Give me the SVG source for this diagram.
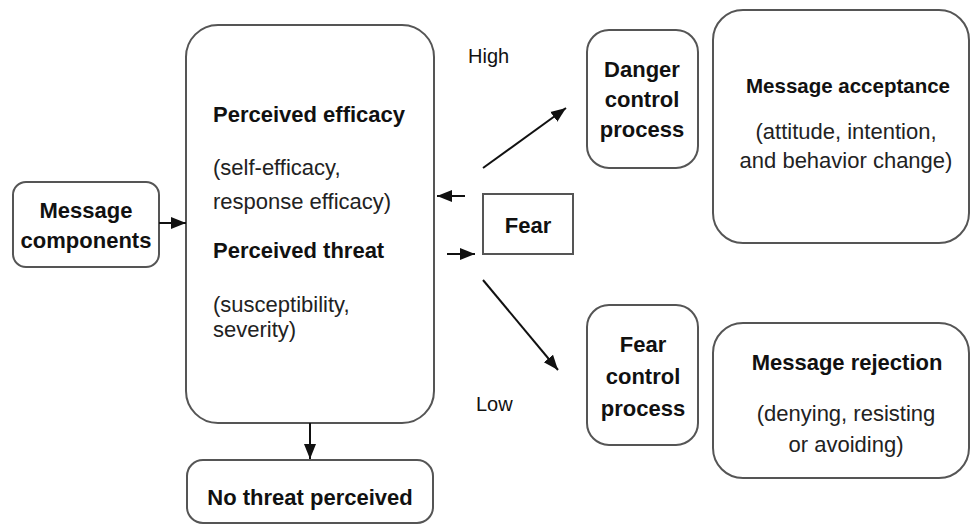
<svg xmlns="http://www.w3.org/2000/svg" width="971" height="527" viewBox="0 0 971 527">
<style>
.box{fill:#fff;stroke:#555;stroke-width:2}
.b{font-family:"Liberation Sans",Arial,sans-serif;font-weight:bold;font-size:22px;fill:#111}
.r{font-family:"Liberation Sans",Arial,sans-serif;font-size:22px;fill:#222}
.lbl{font-family:"Liberation Sans",Arial,sans-serif;font-size:20px;fill:#111}
.c{text-anchor:middle}
.con{stroke:#111;stroke-width:2;fill:none}
</style>
<defs>
<marker id="ah" markerUnits="userSpaceOnUse" markerWidth="16" markerHeight="16" viewBox="0 0 16 16" refX="15" refY="8" orient="auto">
<path d="M0,2 L15,8 L0,14 Z" fill="#111"/>
</marker>
</defs>
<rect width="971" height="527" fill="#fff"/>

<g id="message-components">
<rect class="box" x="13" y="182" width="146" height="85" rx="13"/>
<text class="b c" x="86" y="218">Message</text>
<text class="b c" x="86" y="248">components</text>
</g>

<g id="perceived">
<rect class="box" x="186" y="25" width="248" height="398" rx="32"/>
<text class="b" x="213" y="122">Perceived efficacy</text>
<text class="r" x="213" y="175">(self-efficacy,</text>
<text class="r" x="213" y="209">response efficacy)</text>
<text class="b" x="213" y="258">Perceived threat</text>
<text class="r" x="213" y="312">(susceptibility,</text>
<text class="r" x="213" y="337">severity)</text>
</g>

<g id="no-threat">
<rect class="box" x="187" y="460" width="246" height="63" rx="16"/>
<text class="b c" x="310" y="505">No threat perceived</text>
</g>

<g id="fear">
<rect class="box" x="483" y="194" width="90" height="60"/>
<text class="b c" x="528" y="233">Fear</text>
</g>

<g id="danger-control">
<rect class="box" x="587" y="30" width="111" height="138" rx="22"/>
<text class="b c" x="642" y="77">Danger</text>
<text class="b c" x="642" y="107">control</text>
<text class="b c" x="642" y="137">process</text>
</g>

<g id="fear-control">
<rect class="box" x="587" y="305" width="111" height="140" rx="22"/>
<text class="b c" x="643" y="352">Fear</text>
<text class="b c" x="643" y="384">control</text>
<text class="b c" x="643" y="416">process</text>
</g>

<g id="message-acceptance">
<rect class="box" x="713" y="10" width="256" height="233" rx="30"/>
<text class="b c" x="848" y="93" style="font-size:20.5px">Message acceptance</text>
<text class="r c" x="846" y="139">(attitude, intention,</text>
<text class="r c" x="846" y="168">and behavior change)</text>
</g>

<g id="message-rejection">
<rect class="box" x="713" y="323" width="256" height="155" rx="30"/>
<text class="b c" x="847" y="370">Message rejection</text>
<text class="r c" x="846" y="421">(denying, resisting</text>
<text class="r c" x="846" y="452">or avoiding)</text>
</g>

<g id="labels">
<text class="lbl" x="468" y="63">High</text>
<text class="lbl" x="476" y="411">Low</text>
</g>

<g id="connectors">
<line class="con" x1="159" y1="223" x2="186" y2="223" marker-end="url(#ah)"/>
<line class="con" x1="310" y1="423" x2="310" y2="459" marker-end="url(#ah)"/>
<line class="con" x1="465" y1="196" x2="437" y2="196" marker-end="url(#ah)"/>
<line class="con" x1="447" y1="254" x2="475" y2="254" marker-end="url(#ah)"/>
<line class="con" x1="483" y1="168" x2="566" y2="108" marker-end="url(#ah)"/>
<line class="con" x1="483" y1="280" x2="558" y2="370" marker-end="url(#ah)"/>
</g>
</svg>
